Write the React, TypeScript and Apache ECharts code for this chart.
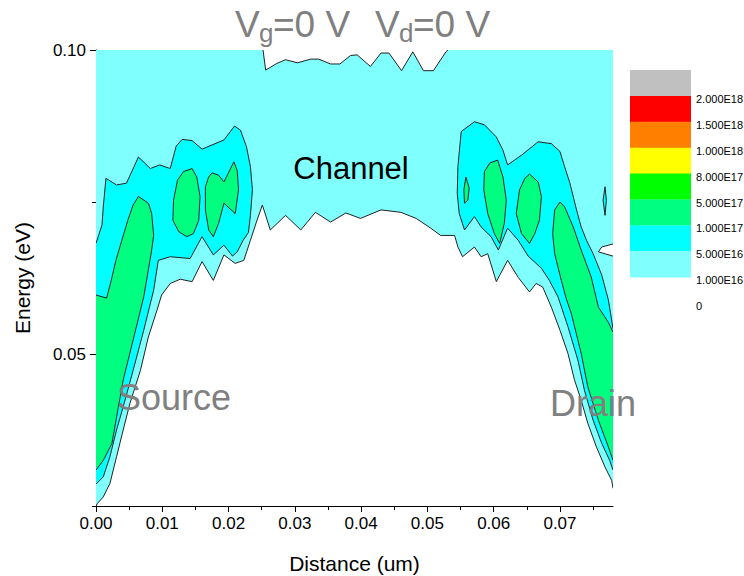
import React, { useEffect, useRef } from 'react';
import * as echarts from 'echarts';

// ---- axis ticks ----
const xMajorTicks = [0, 0.01, 0.02, 0.03, 0.04, 0.05, 0.06, 0.07];
const xMinorTicks = [0.005, 0.015, 0.025, 0.035, 0.045, 0.055, 0.065, 0.075];
const yMajorTicks = [0.05, 0.1];
const yMinorTicks = [0.025, 0.075];
const X_MIN = 0;
const X_MAX = 0.078;
const Y_MIN = 0.025;
const Y_MAX = 0.1;

// ---- legend (contour levels) ----
const legendColors = ['#C0C0C0', '#FF0000', '#FF8000', '#FFFF00', '#00FF00', '#00FF80', '#00FFFF', '#80FFFF'];
const legendLabels = ['2.000E18', '1.500E18', '1.000E18', '8.000E17', '5.000E17', '1.000E17', '5.000E16', '1.000E16', '0'];

// ---- contour regions, [distance (um), energy (eV)] ----
// >= 1.000E16
const region1e16 = [
  [0, 0.1], [0.0252, 0.1], [0.0256, 0.0967], [0.0273, 0.0978], [0.0286, 0.0984], [0.0304, 0.0979],
  [0.0324, 0.0985], [0.0336, 0.0985], [0.0354, 0.0977], [0.0368, 0.0977], [0.0384, 0.0991], [0.0394, 0.0992],
  [0.0414, 0.0973], [0.043, 0.0995], [0.0442, 0.0995], [0.0461, 0.0966], [0.0478, 0.0997], [0.0494, 0.0966],
  [0.0509, 0.0966], [0.0528, 0.0997], [0.0531, 0.1], [0.078, 0.1], [0.078, 0.0681], [0.0763, 0.0676],
  [0.0758, 0.0668], [0.078, 0.0661], [0.078, 0.0279], [0.0778, 0.0292], [0.0768, 0.0314], [0.0755, 0.0347],
  [0.0742, 0.0386], [0.0732, 0.0424], [0.0722, 0.0457], [0.0712, 0.0501], [0.07, 0.0539], [0.0687, 0.0577],
  [0.0674, 0.061], [0.0664, 0.0616], [0.0654, 0.0602], [0.0637, 0.0626], [0.0621, 0.0654], [0.0604, 0.0619],
  [0.0591, 0.0665], [0.0581, 0.066], [0.0571, 0.0676], [0.0553, 0.066], [0.0546, 0.0676], [0.0541, 0.0695],
  [0.052, 0.0695], [0.0505, 0.0707], [0.0483, 0.0723], [0.046, 0.0733], [0.043, 0.0737], [0.0399, 0.0723],
  [0.0377, 0.0732], [0.0354, 0.0717], [0.0331, 0.0733], [0.0309, 0.0704], [0.0286, 0.0728], [0.0263, 0.0704],
  [0.0251, 0.0745], [0.0242, 0.0717], [0.0233, 0.0687], [0.0223, 0.0654], [0.021, 0.0649], [0.0193, 0.0663],
  [0.0177, 0.0621], [0.016, 0.0652], [0.0145, 0.0619], [0.0127, 0.0623], [0.0112, 0.0616], [0.0099, 0.0597],
  [0.0092, 0.0572], [0.0079, 0.0528], [0.0067, 0.0473], [0.0051, 0.0418], [0.0041, 0.0375], [0.0031, 0.0331],
  [0.0021, 0.0287], [0.0011, 0.0265], [0.0002, 0.0254], [0, 0.025],
];
// >= 5.000E16, source side
const region5e16Source = [
  [0, 0.0682], [0.0009, 0.0712], [0.0011, 0.0742], [0.0015, 0.0789], [0.0031, 0.0778], [0.0046, 0.0781],
  [0.0064, 0.0824], [0.0082, 0.0805], [0.0096, 0.0811], [0.0112, 0.0805], [0.0121, 0.0842], [0.013, 0.0853],
  [0.0145, 0.0851], [0.016, 0.0837], [0.0193, 0.0852], [0.0209, 0.0875], [0.0218, 0.0868], [0.0227, 0.0841],
  [0.0233, 0.0808], [0.0236, 0.077], [0.0233, 0.0728], [0.023, 0.07], [0.0222, 0.0687], [0.0213, 0.0668],
  [0.0206, 0.0661], [0.0193, 0.0679], [0.0177, 0.0663], [0.016, 0.0693], [0.0142, 0.0657], [0.0112, 0.066],
  [0.0094, 0.0654], [0.0087, 0.0605], [0.0072, 0.0539], [0.0056, 0.0473], [0.0041, 0.0413], [0.0031, 0.0375],
  [0.0021, 0.0331], [0.0011, 0.0298], [0, 0.0286],
];
// >= 5.000E16, drain side
const region5e16Drain = [
  [0.0551, 0.0866], [0.0571, 0.0882], [0.0586, 0.0877], [0.0604, 0.0857], [0.0614, 0.0835], [0.0621, 0.0811],
  [0.0642, 0.0827], [0.0667, 0.0849], [0.0687, 0.0846], [0.07, 0.0833], [0.0707, 0.0808], [0.0715, 0.0781],
  [0.0725, 0.0737], [0.0732, 0.0709], [0.074, 0.0687], [0.075, 0.0665], [0.0763, 0.063], [0.0773, 0.0589],
  [0.078, 0.0542], [0.078, 0.0309], [0.0775, 0.0325], [0.0763, 0.0353], [0.075, 0.0391], [0.0737, 0.044],
  [0.0727, 0.049], [0.0712, 0.0545], [0.0697, 0.0594], [0.0684, 0.0621], [0.0672, 0.0641], [0.0652, 0.0661],
  [0.0637, 0.0687], [0.0621, 0.0707], [0.0607, 0.0671], [0.0596, 0.0693], [0.0581, 0.0709], [0.0571, 0.0726],
  [0.0556, 0.0704], [0.0548, 0.0731], [0.0545, 0.0764], [0.0546, 0.0808],
];
const island5e16 = [[0.0768, 0.0775], [0.077, 0.0753], [0.0768, 0.0728], [0.0765, 0.0753]];
// >= 1.000E17
const region1e17Source = [
  [0, 0.0597], [0.0016, 0.0592], [0.0023, 0.0621], [0.003, 0.0654], [0.0039, 0.0687], [0.0048, 0.072],
  [0.0056, 0.0745], [0.0064, 0.0759], [0.0079, 0.0748], [0.0084, 0.0731], [0.0087, 0.0695], [0.0084, 0.0671],
  [0.0072, 0.0594], [0.0056, 0.0523], [0.0041, 0.0457], [0.0031, 0.0396], [0.0024, 0.0353], [0.0011, 0.0325],
  [0, 0.0309],
];
const blob1e17SourceA = [
  [0.0132, 0.08], [0.0145, 0.0805], [0.0152, 0.0791], [0.0157, 0.0759], [0.0155, 0.072], [0.0147, 0.0698],
  [0.0137, 0.0693], [0.0125, 0.0701], [0.0116, 0.072], [0.0117, 0.0753], [0.0123, 0.0786],
];
const blob1e17SourceB = [
  [0.0175, 0.0798], [0.0185, 0.0794], [0.0193, 0.0783], [0.0208, 0.0816], [0.0213, 0.0802], [0.0215, 0.077],
  [0.021, 0.0731], [0.0193, 0.0748], [0.0185, 0.0715], [0.0177, 0.0693], [0.017, 0.0704], [0.0165, 0.0737],
  [0.0165, 0.0775], [0.017, 0.0791],
];
const blob1e17DrainA = [
  [0.0594, 0.0814], [0.0606, 0.0819], [0.0614, 0.0791], [0.0619, 0.0753], [0.0616, 0.0715], [0.0609, 0.0682],
  [0.0601, 0.0698], [0.0591, 0.0731], [0.0585, 0.077], [0.0586, 0.08],
];
const blob1e17DrainB = [
  [0.0654, 0.0796], [0.0667, 0.0783], [0.0672, 0.0759], [0.0669, 0.072], [0.0662, 0.0698], [0.0654, 0.0682],
  [0.0642, 0.0698], [0.0634, 0.0731], [0.0639, 0.077], [0.0647, 0.0789],
];
const blob1e17DrainC = [[0.0558, 0.0791], [0.0563, 0.0773], [0.0561, 0.0753], [0.0556, 0.0748], [0.0555, 0.077]];
const region1e17Drain = [
  [0.07, 0.075], [0.0707, 0.0742], [0.072, 0.0709], [0.0732, 0.0671], [0.0747, 0.0627], [0.0758, 0.0577],
  [0.0773, 0.0552], [0.078, 0.0536], [0.078, 0.0325], [0.0773, 0.0347], [0.0758, 0.0391], [0.0742, 0.0446],
  [0.0732, 0.0501], [0.0717, 0.0567], [0.071, 0.0589], [0.0702, 0.0621], [0.0692, 0.0665], [0.0689, 0.0698],
  [0.0692, 0.0737],
];

const regionList = [
  { points: region1e16, level: 7 },
  { points: region5e16Source, level: 6 },
  { points: region5e16Drain, level: 6 },
  { points: island5e16, level: 6 },
  { points: region1e17Source, level: 5 },
  { points: blob1e17SourceA, level: 5 },
  { points: blob1e17SourceB, level: 5 },
  { points: blob1e17DrainA, level: 5 },
  { points: blob1e17DrainB, level: 5 },
  { points: blob1e17DrainC, level: 5 },
  { points: region1e17Drain, level: 5 },
];

const FONT = "'Liberation Sans', Arial, sans-serif";
const EPS = 1e-9;

function sameEdge(a: number[], b: number[]) {
  if (Math.abs(a[0] - X_MIN) < EPS && Math.abs(b[0] - X_MIN) < EPS) return true;
  if (Math.abs(a[0] - X_MAX) < EPS && Math.abs(b[0] - X_MAX) < EPS) return true;
  if (Math.abs(a[1] - Y_MAX) < EPS && Math.abs(b[1] - Y_MAX) < EPS) return true;
  if (Math.abs(a[1] - Y_MIN) < EPS && Math.abs(b[1] - Y_MIN) < EPS) return true;
  return false;
}

function outlineRuns(pts: number[][]) {
  const n = pts.length;
  let start = 0;
  for (let i = 0; i < n; i++) {
    if (sameEdge(pts[i], pts[(i + 1) % n])) { start = (i + 1) % n; break; }
  }
  const runs: number[][][] = [];
  let cur: number[][] = [pts[start]];
  for (let k = 0; k < n; k++) {
    const a = pts[(start + k) % n];
    const b = pts[(start + k + 1) % n];
    if (sameEdge(a, b)) {
      if (cur.length > 1) runs.push(cur);
      cur = [b];
    } else {
      cur.push(b);
    }
  }
  if (cur.length > 1) runs.push(cur);
  return runs;
}

export default function App() {
  const ref = useRef<HTMLDivElement>(null);
  useEffect(() => {
    if (!ref.current) return;
    const chart = echarts.init(ref.current, null, { renderer: 'svg' });
    const axisLineStyle = { color: '#000', width: 1 };
    const graphics: any[] = [];
    // title
    const titleColor = '#808080';
    graphics.push(
      { type: 'text', x: 235, y: 24, z: 100, style: { text: 'V', font: `37px ${FONT}`, fill: titleColor, textVerticalAlign: 'middle' } },
      { type: 'text', x: 259, y: 33, z: 100, style: { text: 'g', font: `26px ${FONT}`, fill: titleColor, textVerticalAlign: 'middle' } },
      { type: 'text', x: 273, y: 24, z: 100, style: { text: '=0 V', font: `37px ${FONT}`, fill: titleColor, textVerticalAlign: 'middle' } },
      { type: 'text', x: 375, y: 24, z: 100, style: { text: 'V', font: `37px ${FONT}`, fill: titleColor, textVerticalAlign: 'middle' } },
      { type: 'text', x: 399, y: 33, z: 100, style: { text: 'd', font: `26px ${FONT}`, fill: titleColor, textVerticalAlign: 'middle' } },
      { type: 'text', x: 413, y: 24, z: 100, style: { text: '=0 V', font: `37px ${FONT}`, fill: titleColor, textVerticalAlign: 'middle' } },
      { type: 'text', x: 351, y: 168, z: 100, style: { text: 'Channel', font: `31px ${FONT}`, fill: '#000', textAlign: 'center', textVerticalAlign: 'middle' } },
      { type: 'text', x: 117, y: 397, z: 100, style: { text: 'Source', font: `36px ${FONT}`, fill: titleColor, textVerticalAlign: 'middle' } },
      { type: 'text', x: 550, y: 403, z: 100, style: { text: 'Drain', font: `36px ${FONT}`, fill: titleColor, textVerticalAlign: 'middle' } },
    );
    // legend
    const boxH = 25.9;
    legendColors.forEach((c, i) => {
      graphics.push({ type: 'rect', z: 100, shape: { x: 630, y: 70 + i * boxH, width: 61, height: boxH + 0.3 }, style: { fill: c } });
    });
    legendLabels.forEach((t, i) => {
      graphics.push({ type: 'text', z: 100, x: 696, y: 70 + (i + 1) * boxH + 3, style: { text: t, font: `11px ${FONT}`, fill: '#000', textVerticalAlign: 'middle' } });
    });

    const option: any = {
      animation: false,
      backgroundColor: '#fff',
      grid: { left: 96, right: 131, top: 50, bottom: 70, containLabel: false, outerBoundsMode: 'none' },
      xAxis: [
        {
          type: 'value', min: X_MIN, max: X_MAX, position: 'bottom',
          name: 'Distance (um)', nameLocation: 'middle', nameGap: 47,
          nameTextStyle: { fontFamily: FONT, fontSize: 21, color: '#000' },
          axisLine: { onZero: false, lineStyle: axisLineStyle },
          axisTick: { customValues: xMajorTicks, length: 6, lineStyle: axisLineStyle },
          axisLabel: { customValues: xMajorTicks, formatter: (v: number) => v.toFixed(2), fontFamily: FONT, fontSize: 17, color: '#000', margin: 9 },
          splitLine: { show: false },
        },
        {
          type: 'value', min: X_MIN, max: X_MAX, position: 'bottom',
          axisLine: { show: false, onZero: false },
          axisTick: { customValues: xMinorTicks, length: 4, lineStyle: axisLineStyle },
          axisLabel: { show: false },
          splitLine: { show: false },
        },
      ],
      yAxis: [
        {
          type: 'value', min: Y_MIN, max: Y_MAX, position: 'left',
          name: 'Energy (eV)', nameLocation: 'middle', nameGap: 63,
          nameTextStyle: { fontFamily: FONT, fontSize: 21, color: '#000' },
          axisLine: { onZero: false, lineStyle: axisLineStyle },
          axisTick: { customValues: yMajorTicks, length: 6, lineStyle: axisLineStyle },
          axisLabel: { customValues: yMajorTicks, formatter: (v: number) => v.toFixed(2), fontFamily: FONT, fontSize: 17, color: '#000', margin: 10 },
          splitLine: { show: false },
        },
        {
          type: 'value', min: Y_MIN, max: Y_MAX, position: 'left',
          axisLine: { show: false, onZero: false },
          axisTick: { customValues: yMinorTicks, length: 4, lineStyle: axisLineStyle },
          axisLabel: { show: false },
          splitLine: { show: false },
        },
      ],
      series: [
        {
          type: 'custom',
          xAxisIndex: 0,
          yAxisIndex: 0,
          clip: true,
          silent: true,
          data: regionList.map((r, i) => [0.04, 0.06, i]),
          encode: { x: 0, y: 1 },
          renderItem: (params: any, api: any) => {
            const r = regionList[params.dataIndex];
            const px = r.points.map((p) => api.coord(p));
            const children: any[] = [
              { type: 'polygon', shape: { points: px }, style: { fill: legendColors[r.level], stroke: null } },
            ];
            outlineRuns(r.points).forEach((run) => {
              children.push({
                type: 'polyline',
                shape: { points: run.map((p) => api.coord(p)) },
                style: { fill: null, stroke: '#222', lineWidth: 1 },
              });
            });
            return { type: 'group', children };
          },
        },
      ],
      graphic: graphics,
    };
    chart.setOption(option);
    return () => chart.dispose();
  }, []);
  return <div ref={ref} style={{ width: 744, height: 576, position: 'absolute', left: 0, top: 0 }} />;
}
